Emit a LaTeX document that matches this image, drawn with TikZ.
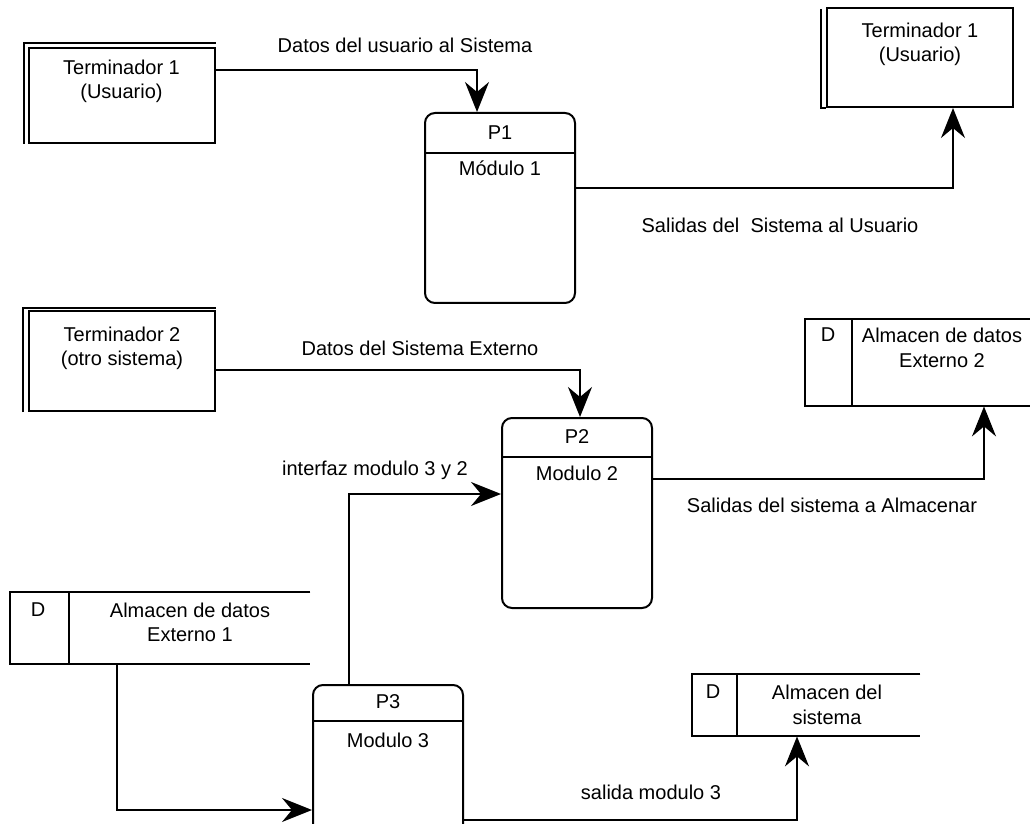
\documentclass[tikz,border=0pt]{standalone}
\usepackage{fontspec}
\setmainfont{Liberation Sans}
\usetikzlibrary{arrows.meta,calc}

\begin{document}
\begin{tikzpicture}[
  x=0.5pt, y=-0.5pt,
  every node/.style={font=\fontsize{10}{12}\selectfont, inner sep=0pt},
  box/.style={draw, line width=1pt},
  proc/.style={box, rounded corners=5pt, minimum width=75pt, minimum height=95pt},
  term/.style={box, minimum width=93pt},
  store/.style={minimum width=#1},
  edge/.style={line width=1pt},
  flow/.style={edge, -{Stealth[length=15pt, width=12pt, inset=5pt]}},
]
\useasboundingbox (0,0) rectangle (1030,824);
\clip (0,0) rectangle (1030,824);

% external entities (terminators) with a doubled edge
\node[term, minimum height=47.5pt] (t1l) at (121.5,95.5) {};
\draw[edge] ([xshift=-2pt]t1l.south west) |- ([yshift=2pt]t1l.north east);
\node (t1ltxt) at (121.5,67) {Terminador 1};
\node (t1lsub) at (121.5,93) {(Usuario)};

\node[term, minimum height=49.5pt] (t1r) at (920,57.5) {};
\draw[edge] ([xshift=-2.5pt,yshift=-1pt]t1r.north west) -- ([xshift=-2.5pt]t1r.south west) -- (t1r.south west);
\node (t1rtxt) at (920,30) {Terminador 1};
\node (t1rsub) at (920,56) {(Usuario)};

\node[term, minimum height=50pt] (t2) at (122,361) {};
\draw[edge] ([xshift=-2.5pt]t2.south west) -- ([xshift=-2.5pt,yshift=1pt]t2.north west) -- ([yshift=1pt]t2.north east);
\node (t2txt) at (122,334) {Terminador 2};
\node (t2sub) at (122,360) {(otro sistema)};

% processes
\node[proc] (p1) at (500,208) {};
\draw[edge] ($(p1.north west)+(0,41)$) -- ($(p1.north east)+(0,41)$);
\node (p1id) at (500,133) {P1};
\node (p1name) at (500,168) {Módulo 1};

\node[proc] (p2) at (577,513) {};
\draw[edge] ($(p2.north west)+(0,40)$) -- ($(p2.north east)+(0,40)$);
\node (p2id) at (577,437) {P2};
\node (p2name) at (577,473) {Modulo 2};

\node[proc] (p3) at (388,780) {};
\draw[edge] ($(p3.north west)+(0,37)$) -- ($(p3.north east)+(0,37)$);
\node (p3id) at (388,702) {P3};
\node (p3name) at (388,740) {Modulo 3};

% data stores, open on the right
\node[store=117.5pt, minimum height=43.5pt] (s2) at (922.5,362.5) {};
\draw[edge] (s2.north east) -- (s2.north west) -- (s2.south west) -- (s2.south east);
\draw[edge] ([xshift=23.5pt]s2.north west) -- ([xshift=23.5pt]s2.south west);
\node (s2d) at (828,335) {D};
\node (s2txt) at (942,335) {Almacen de datos};
\node (s2sub) at (942,361) {Externo 2};

\node[store=150pt, minimum height=36pt] (s1) at (160,628) {};
\draw[edge] (s1.north east) -- (s1.north west) -- (s1.south west) -- (s1.south east);
\draw[edge] ([xshift=29.5pt]s1.north west) -- ([xshift=29.5pt]s1.south west);
\node (s1d) at (38,610) {D};
\node (s1txt) at (190,610) {Almacen de datos};
\node (s1sub) at (190,635) {Externo 1};

\node[store=114pt, minimum height=31pt] (s3) at (806,705) {};
\draw[edge] (s3.north east) -- (s3.north west) -- (s3.south west) -- (s3.south east);
\draw[edge] ([xshift=22.5pt]s3.north west) -- ([xshift=22.5pt]s3.south west);
\node (s3d) at (713,692) {D};
\node (s3txt) at (827,692) {Almacen del};
\node (s3sub) at (827,717) {sistema};

% bend points of the flows
\coordinate (b1) at (477,70);
\coordinate (b2) at (953,188);
\coordinate (b3) at (580,370);
\coordinate (b4) at (984,479);
\coordinate (b5) at (117,810);
\coordinate (b6) at (349,494);
\coordinate (b7) at (797,820);

% data flows
\draw[flow] (t1l.east |- b1) -- (b1) -- (b1 |- p1.north);
\draw[flow] (p1.east |- b2) -- (b2) -- (b2 |- t1r.south);
\draw[flow] (t2.east |- b3) -- (b3) -- (b3 |- p2.north);
\draw[flow] (p2.east |- b4) -- (b4) -- (b4 |- s2.south);
\draw[flow] (b5 |- s1.south) -- (b5) -- (b5 -| p3.west);
\draw[flow] (b6 |- p3.north) -- (b6) -- (b6 -| p2.west);
\draw[flow] (p3.east |- b7) -- (b7) -- (b7 |- s3.south);

% flow labels
\node (l1) at (405,45) {Datos del usuario al Sistema};
\node (l2) at (780,225) {Salidas del\ \ Sistema al Usuario};
\node (l3) at (420,348) {Datos del Sistema Externo};
\node (l4) at (832,505) {Salidas del sistema a Almacenar};
\node (l5) at (375,470) {interfaz modulo 3 y 2};
\node (l6) at (651,792) {salida modulo 3};
\end{tikzpicture}
\end{document}
